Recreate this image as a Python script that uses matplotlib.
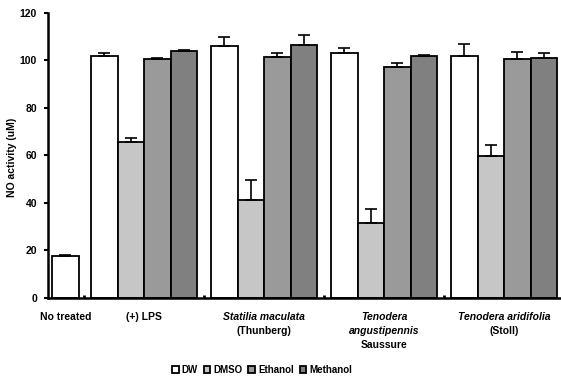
import numpy as np
import matplotlib
matplotlib.use("Agg")
import matplotlib.pyplot as plt
import matplotlib.transforms as mtransforms
from matplotlib.patches import Patch

plt.rcParams["font.family"] = ["Liberation Sans", "DejaVu Sans"]
plt.rcParams["font.weight"] = "bold"

# values (uM)
solvents = ["DW", "DMSO", "Ethanol", "Methanol"]
colors = ["#ffffff", "#c6c6c6", "#9a9a9a", "#808080"]

control_value = 17.6
control_err = 0.3

dw = [101.7, 105.9, 103.2, 101.8]
dw_err = [1.4, 3.8, 2.2, 5.0]
dmso = [65.8, 41.0, 31.6, 59.6]
dmso_err = [1.4, 8.4, 5.6, 4.9]
ethanol = [100.8, 101.5, 97.1, 100.8]
ethanol_err = [0.4, 1.8, 1.8, 2.7]
methanol = [104.0, 106.7, 101.8, 101.1]
methanol_err = [0.3, 4.1, 0.3, 2.1]

# category labels: list of (text, italic) lines
categories = [
    [("No treated", False)],
    [("(+) LPS", False)],
    [("Statilia maculata", True), ("(Thunberg)", False)],
    [("Tenodera", True), ("angustipennis", True), ("Saussure", False)],
    [("Tenodera aridifolia", True), ("(Stoll)", False)],
]

yticks = [0, 20, 40, 60, 80, 100, 120]

# layout (x in pixels from the y axis)
bar_w = 26.5
group_left = 43
group_pitch = 120
control_left = 4

fig = plt.figure(figsize=(5.61, 3.80), dpi=100)
ax = fig.add_axes([48 / 561, 82.3 / 380, 513 / 561, 284.7 / 380])

err_kw = dict(ecolor="black", elinewidth=1.2, capsize=4, capthick=1.2)
edge_kw = dict(edgecolor="black", linewidth=1.3, align="edge")

ax.bar(control_left, control_value, bar_w, color=colors[0], **edge_kw)
ax.errorbar(control_left + bar_w / 2, control_value, yerr=[[0], [control_err]],
            fmt="none", **err_kw)

series = [(dw, dw_err), (dmso, dmso_err), (ethanol, ethanol_err), (methanol, methanol_err)]
starts = group_left + group_pitch * np.arange(len(dw))
for i, (vals, errs) in enumerate(series):
    lefts = starts + i * bar_w
    ax.bar(lefts, vals, bar_w, color=colors[i], **edge_kw)
    ax.errorbar(lefts + bar_w / 2, vals, yerr=[np.zeros(len(errs)), errs],
                fmt="none", **err_kw)

ax.set_xlim(0, 513)
ax.set_ylim(0, 120)
ax.set_yticks(yticks)
ax.tick_params(axis="y", direction="out", length=3, width=1.5, pad=5, labelsize=7.5)
ax.set_xticks(starts - 7)
ax.set_xticklabels([])
ax.tick_params(axis="x", direction="in", length=2.5, width=2)
for side in ["top", "right"]:
    ax.spines[side].set_visible(False)
for side in ["left", "bottom"]:
    ax.spines[side].set_linewidth(1.8)

fig.text(12.5 / 561, 1 - 157 / 380, "NO activity (uM)", rotation=90,
         ha="center", va="center", fontsize=7.5)

centers = [control_left + bar_w / 2] + list(starts + 2 * bar_w)
trans = mtransforms.blended_transform_factory(ax.transData, fig.transFigure)
for cx, lines in zip(centers, categories):
    for j, (txt, italic) in enumerate(lines):
        ax.text(cx, 1 - (317 + 14 * j) / 380, txt, transform=trans,
                ha="center", va="center", fontsize=7.5,
                style="italic" if italic else "normal", clip_on=False)

handles = [Patch(facecolor=c, edgecolor="black", linewidth=1.3) for c in colors]
fig.legend(handles, solvents, loc="center", bbox_to_anchor=(262 / 561, 1 - 370 / 380),
           ncol=4, frameon=False, fontsize=7, handlelength=0.7, handleheight=0.7,
           handletextpad=0.3, columnspacing=0.6, borderpad=0)

fig.savefig("out.png", dpi=100)
